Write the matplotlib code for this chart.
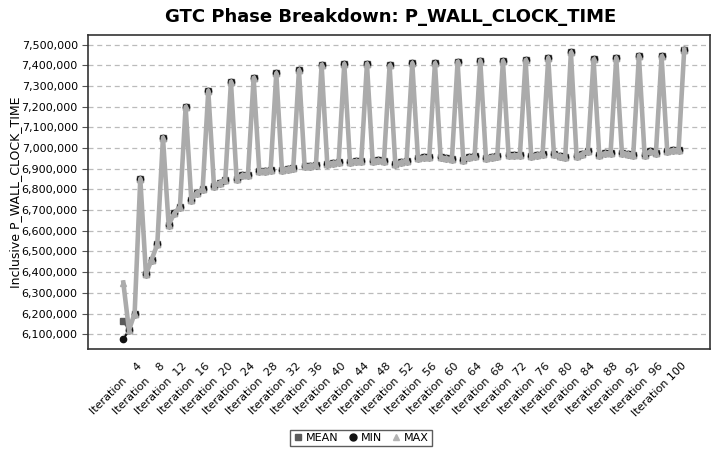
import matplotlib
matplotlib.use("Agg")
import matplotlib.pyplot as plt
from matplotlib.ticker import FuncFormatter, MultipleLocator

# Iterations 1..100
iterations = list(range(1, 101))

# Inclusive P_WALL_CLOCK_TIME, mean over threads
mean_vals = [
    6162000, 6120000, 6200000, 6852000,
    6390000, 6461000, 6534000, 7051000,
    6630000, 6684000, 6717000, 7200000,
    6751000, 6785000, 6800000, 7278000,
    6819000, 6833000, 6848000, 7321000,
    6852000, 6870000, 6870000, 7340000,
    6888000, 6891000, 6893000, 7362000,
    6895000, 6900000, 6905000, 7377000,
    6912000, 6915000, 6918000, 7403000,
    6924000, 6928000, 6932000, 7408000,
    6935000, 6937000, 6938000, 7408000,
    6940000, 6941000, 6938000, 7400000,
    6925000, 6932000, 6940000, 7411000,
    6952000, 6955000, 6955000, 7411000,
    6957000, 6950000, 6948000, 7418000,
    6945000, 6955000, 6960000, 7424000,
    6952000, 6958000, 6960000, 7422000,
    6965000, 6965000, 6966000, 7426000,
    6960000, 6967000, 6972000, 7437000,
    6972000, 6962000, 6958000, 7463000,
    6960000, 6972000, 6985000, 7429000,
    6968000, 6975000, 6975000, 7437000,
    6978000, 6972000, 6967000, 7448000,
    6968000, 6985000, 6975000, 7445000,
    6985000, 6990000, 6992000, 7477000,
]
# min and max only differ from the mean on the first iteration
min_vals = [6075000] + mean_vals[1:]
max_vals = [6350000] + mean_vals[1:]

tick_iters = list(range(4, 101, 4))
# numbers are padded so the labels come out about the same length
tick_labels = ["Iteration " + " " * (3 * (3 - len(str(i))) // 2) + str(i)
               for i in tick_iters]

fig = plt.figure(figsize=(7.11, 4.53), dpi=100)
ax = fig.add_axes([0.124, 0.229, 0.875, 0.694])

ax.plot(iterations, mean_vals, color="#5a5a5a", lw=1.5, marker="s", ms=4.5,
        label="MEAN", zorder=3)
ax.plot(iterations, min_vals, color="#111111", lw=1.5, marker="o", ms=4.5,
        label="MIN", zorder=4)
ax.plot(iterations, max_vals, color="#ababab", lw=3.3, marker="^", ms=4,
        label="MAX", zorder=5)

ax.set_xlim(-5.2, 104.6)
ax.set_ylim(6027000, 7548000)
ax.yaxis.set_major_locator(MultipleLocator(100000))
ax.yaxis.set_major_formatter(FuncFormatter(lambda v, p: f"{v:,.0f}"))
ax.grid(axis="y", color="#bbbbbb", linestyle=(0, (4, 3)), lw=0.9)
ax.set_axisbelow(True)

ax.set_xticks(tick_iters)
ax.set_xticklabels(tick_labels, rotation=45, ha="right", va="center",
                   rotation_mode="anchor", fontsize=8)
ax.tick_params(axis="x", length=0, pad=11)
ax.tick_params(axis="y", labelsize=8, length=4, color="#555555")

for s in ax.spines.values():
    s.set_color("#333333")
    s.set_linewidth(1.2)

ax.set_ylabel("Inclusive P_WALL_CLOCK_TIME", fontsize=9)
ax.yaxis.set_label_coords(-0.106, 0.5)
fig.text(0.55, 0.962, "GTC Phase Breakdown: P_WALL_CLOCK_TIME",
         ha="center", va="center", fontsize=13, fontweight="bold")

handles = [
    plt.Line2D([], [], ls="none", marker="s", ms=5, color="#5a5a5a"),
    plt.Line2D([], [], ls="none", marker="o", ms=5, color="#111111"),
    plt.Line2D([], [], ls="none", marker="^", ms=5, color="#b4b4b4"),
]
fig.legend(handles, ["MEAN", "MIN", "MAX"], loc="center",
           bbox_to_anchor=(0.508, 0.033), ncol=3, fontsize=8,
           frameon=True, fancybox=False, edgecolor="#333333",
           handlelength=0.8, handletextpad=0.3, columnspacing=0.9,
           borderpad=0.3)

fig.savefig("out.png", dpi=100)
